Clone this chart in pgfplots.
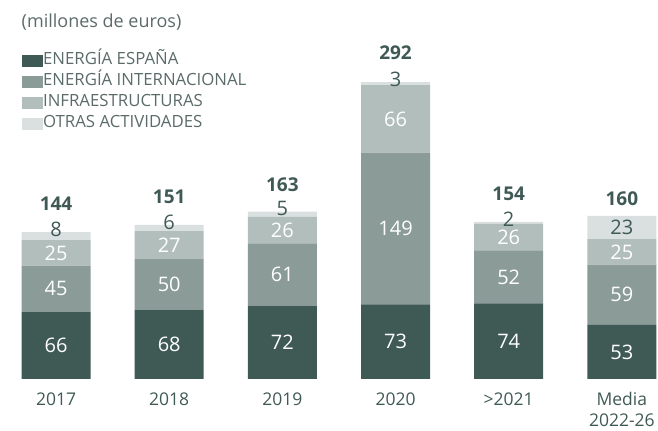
\documentclass[border=0pt]{standalone}
\usepackage{pgfplots}
\pgfplotsset{compat=1.18}
\usepackage{pgfplotstable}
\usepackage{fontspec}
\setmainfont{Open Sans}
\definecolor{cES}{HTML}{3F5955}
\definecolor{cEI}{HTML}{8A9B98}
\definecolor{cIN}{HTML}{B2BEBB}
\definecolor{cOT}{HTML}{D9E0DF}
\definecolor{cTxt}{HTML}{3F5955}
\definecolor{cSub}{HTML}{5B6B69}
\pgfplotstableread{
x es ei inf otr tot
0 66 45 25 8 144
1 68 50 27 6 151
2 72 61 26 5 163
3 73 149 66 3 292
4 74 52 26 2 154
5 53 59 25 23 160
}\datatab
\begin{document}
\begin{tikzpicture}
\begin{axis}[
  x=113.2bp, y=1.02bp,
  xmin=-0.495, xmax=5.318, ymin=0, ymax=371.6,
  ybar stacked, bar width=69bp,
  axis x line*=bottom, hide y axis,
  x axis line style={draw=none},
  xtick={0,...,5},
  xticklabels={2017,2018,2019,2020,{>2021},{Media\\2022-26}},
  major tick length=0pt,
  xticklabel style={font=\fontsize{17.5bp}{21bp}\selectfont, text=cTxt, align=center, yshift=-10bp},
  clip=false,
  /pgf/number format/assume math mode=true,
  seglab/.style={nodes near coords, point meta=\thisrow{#1},
    every node near coord/.style={anchor=center,
      font=\fontsize{20bp}{20bp}\selectfont, text=white}},
  legend style={at={(axis cs:-0.328,321)}, anchor=north west, draw=none, fill=none,
    font=\fontsize{16.8bp}{16.8bp}\selectfont, text=cSub,
    nodes={inner sep=0pt, text height=11bp, text depth=3bp},
    row sep=7bp, /tikz/every even column/.append style={column sep=4bp}},
  legend cell align=left,
  legend image code/.code={\fill[#1] (0bp,-6bp) rectangle (21bp,6bp);},
]
\path (axis cs:-0.495,371.6) (axis cs:-0.495,-48);
\addplot[fill=cES, draw=none, seglab=es] table[x=x,y=es]{\datatab};
\addlegendentry{ENERGÍA ESPAÑA}
\addplot[fill=cEI, draw=none, seglab=ei] table[x=x,y=ei]{\datatab};
\addlegendentry{ENERGÍA INTERNACIONAL}
\addplot[fill=cIN, draw=none, seglab=inf] table[x=x,y=inf]{\datatab};
\addlegendentry{INFRAESTRUCTURAS}
\addplot[fill=cOT, draw=none, nodes near coords, point meta=\thisrow{otr},
  visualization depends on={\thisrow{otr}\as\ov},
  every node near coord/.style={anchor=center,
    yshift={ifthenelse(\ov>10,0,\ov*0.51+3)*1bp},
    font=\fontsize{20bp}{20bp}\selectfont, text=cTxt}] table[x=x,y=otr]{\datatab};
\addlegendentry{OTRAS ACTIVIDADES}
\addplot[draw=none, fill=none, forget plot, stack plots=false, nodes near coords, point meta=\thisrow{tot},
  visualization depends on={\thisrow{otr}\as\ow},
  visualization depends on={\thisrow{tot}\as\tv},
  every node near coord/.style={anchor=center,
    yshift={(\tv*0.51+ifthenelse(\ow>10,17,28))*1bp},
    font=\bfseries\fontsize{19bp}{19bp}\selectfont, text=cTxt}] table[x=x,y=tot]{\datatab};
\node[anchor=west, font=\fontsize{18bp}{18bp}\selectfont, text=cSub, inner sep=0pt]
  at (axis cs:-0.305,350) {(millones de euros)};
\end{axis}
\end{tikzpicture}
\end{document}
